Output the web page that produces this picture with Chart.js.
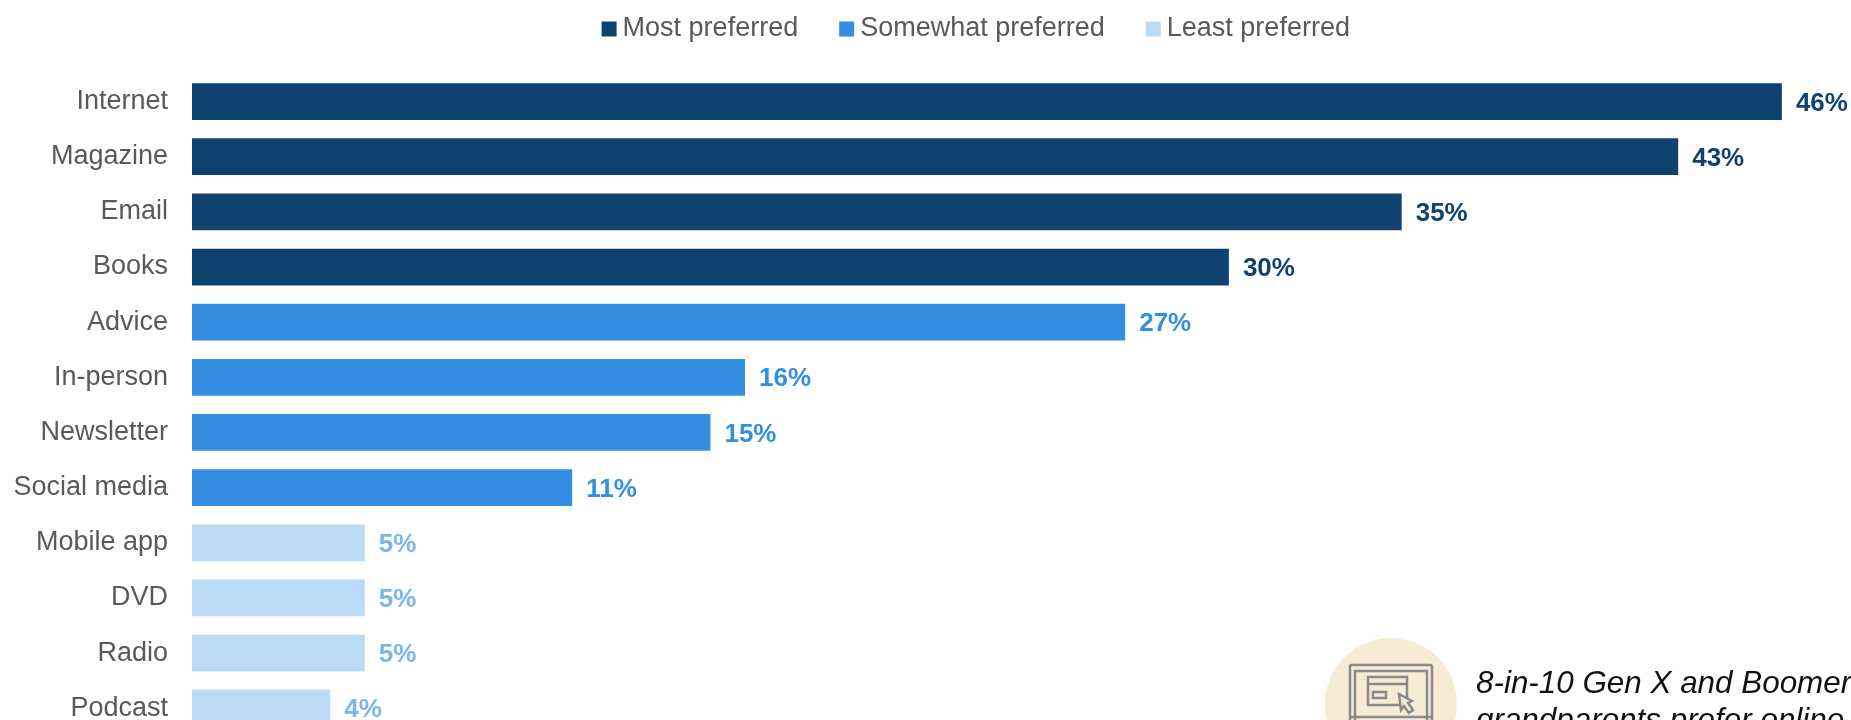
<!DOCTYPE html>
<html>
<head>
<meta charset="utf-8">
<title>Preferred sources</title>
<script src="https://cdn.jsdelivr.net/npm/chart.js@4.4.0/dist/chart.umd.min.js"></script>
<style>
    html, body { margin: 0; padding: 0; background: #fff; width: 1851px; height: 720px; overflow: hidden; }
    #wrap { position: relative; width: 1851px; height: 720px; overflow: hidden; }
    #chart { position: absolute; left: 0; top: 0; }
    #icon { position: absolute; left: 1320px; top: 630px; }
    .note { position: absolute; left: 1476px; font: italic 31.4px "Liberation Sans", Arial, sans-serif; color: #111; white-space: nowrap; }
</style>
</head>
<body>
<div id="wrap">
    <canvas id="chart" width="1851" height="768"></canvas>
    <svg id="icon" width="150" height="90" viewBox="1320 630 150 90" fill="none" stroke="#8a8a8a" stroke-width="2.5">
        <circle cx="1391" cy="704" r="66" fill="#f7ebd5" stroke="none"/>
        <path d="M1350 720V667q0-2 2-2h78q2 0 2 2v53"/>
        <path d="M1355 720V671h72v49"/>
        <rect x="1368" y="677" width="39" height="28"/>
        <path d="M1368 684h39"/>
        <rect x="1373" y="692" width="13" height="6"/>
        <path d="M1399 694l13 7-4 2 5 7-4 3-5-7-3 4z" fill="#f7ebd5"/>
        <path d="M1350 717h82"/>
    </svg>
    <div class="note" style="top:665px">8-in-10 Gen X and Boomer</div>
    <div class="note" style="top:702px">grandparents prefer online</div>
</div>
<script>
// Chart data
const categories = ['Internet', 'Magazine', 'Email', 'Books', 'Advice', 'In-person', 'Newsletter', 'Social media', 'Mobile app', 'DVD', 'Radio', 'Podcast'];
const mostPreferred = [46, 43, 35, 30, null, null, null, null, null, null, null, null];
const somewhatPreferred = [null, null, null, null, 27, 16, 15, 11, null, null, null, null];
const leastPreferred = [null, null, null, null, null, null, null, null, 5, 5, 5, 4];

const labelColors = ['#10426f', '#348fe2', '#7ab6ec'];

// Value labels at the end of each bar
const barLabels = {
    id: 'barLabels',
    afterDatasetsDraw(chart) {
        const ctx = chart.ctx;
        ctx.save();
        ctx.font = 'bold 26px "Liberation Sans", Arial, sans-serif';
        ctx.textAlign = 'left';
        ctx.textBaseline = 'middle';
        chart.data.datasets.forEach((ds, i) => {
            ctx.fillStyle = labelColors[i];
            chart.getDatasetMeta(i).data.forEach((bar, j) => {
                if (ds.data[j] == null) return;
                ctx.fillText(ds.data[j] + '%', bar.x + 14, bar.y + 2);
            });
        });
        ctx.restore();
    }
};

// Legend sits above and right of the default spot
const moveLegend = {
    id: 'moveLegend',
    afterLayout(chart) {
        const legend = chart.legend;
        legend.top = -33;
        legend.left += 54;
        legend.right += 54;
    }
};

new Chart(document.getElementById('chart'), {
    type: 'bar',
    data: {
        labels: categories,
        datasets: [
            { label: 'Most preferred', data: mostPreferred, backgroundColor: '#10426f' },
            { label: 'Somewhat preferred', data: somewhatPreferred, backgroundColor: '#348fe2' },
            { label: 'Least preferred', data: leastPreferred, backgroundColor: '#bbdaf6' }
        ]
    },
    options: {
        indexAxis: 'y',
        responsive: false,
        animation: false,
        devicePixelRatio: 1,
        barPercentage: 0.666,
        categoryPercentage: 1,
        layout: { padding: { top: -11.5, left: 0, right: 0, bottom: 0 } },
        scales: {
            x: {
                stacked: true,
                min: 0,
                max: 48,
                display: false
            },
            y: {
                stacked: true,
                grid: { display: false },
                border: { display: false },
                afterFit(scale) { scale.width = 192; },
                ticks: {
                    color: '#595959',
                    padding: 16,
                    autoSkip: false,
                    font: { family: '"Liberation Sans", Arial, sans-serif', size: 27 }
                }
            }
        },
        plugins: {
            tooltip: { enabled: false },
            legend: {
                position: 'top',
                labels: {
                    usePointStyle: true,
                    pointStyle: 'rect',
                    boxWidth: 0.01,
                    boxHeight: 15,
                    padding: 48.5,
                    color: '#595959',
                    font: { family: '"Liberation Sans", Arial, sans-serif', size: 27 }
                }
            }
        }
    },
    plugins: [barLabels, moveLegend]
});
</script>
</body>
</html>
